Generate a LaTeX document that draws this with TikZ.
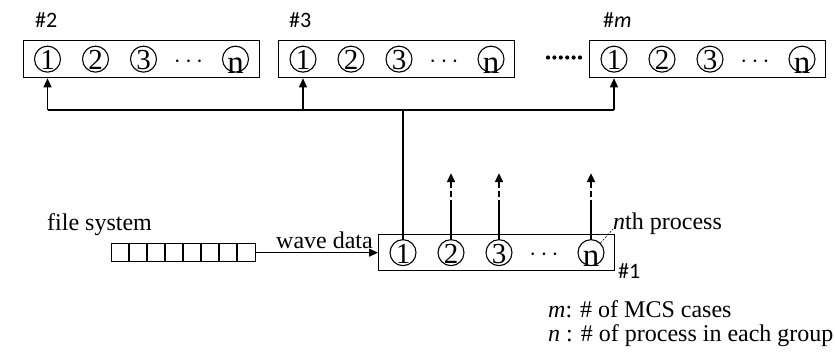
\documentclass[tikz,border=0pt]{standalone}
\usepackage{fontspec}
\setmainfont{Liberation Serif}
\newfontfamily\lblfont{Carlito}
\usetikzlibrary{arrows.meta,calc}
\newcommand{\pcd}[1]{\makebox[0pt]{\smash{\raisebox{-10.5pt}{\fontsize{29pt}{29pt}\selectfont #1}}}}
\newcommand{\pcn}{\makebox[0pt]{\smash{\raisebox{-14pt}{\fontsize{33pt}{33pt}\selectfont n}}}}
\tikzset{
 grp/.style={draw, line width=1.3pt, minimum width=236pt, minimum height=37pt, inner sep=0pt, anchor=north west},
 pc/.style={draw, circle, line width=1.1pt, minimum size=26pt, inner sep=0pt},
 hdr/.style={font=\lblfont\fontsize{22pt}{22pt}\selectfont, anchor=base west, inner sep=0pt},
 txt/.style={font=\fontsize{24pt}{24pt}\selectfont, anchor=base west, inner sep=0pt},
 bus/.style={line width=2pt},
 uparrow/.style={line width=1.2pt, -{Triangle[length=9pt,width=8pt]}},
 dasharrow/.style={line width=1.8pt, dash pattern=on 39pt off 3pt on 6pt off 3pt on 30pt, -{Triangle[length=9pt,width=8pt]}},
 queuebox/.style={draw, line width=1.3pt, minimum width=144pt, minimum height=18pt, inner sep=0pt, anchor=north west},
}
\begin{document}
\begin{tikzpicture}[x=1pt,y=-1pt]
\useasboundingbox (0,0) rectangle (835,354);
% group boxes
\node[grp] (b2) at (22.5,40) {};
\node[grp] (b3) at (278,40) {};
\node[grp] (bm) at (589,40) {};
\node[grp, minimum height=36pt] (b1) at (378,234) {};
\foreach \b in {b1,b2,b3,bm}{
 \node[pc] (\b-1) at ([xshift=25pt]\b.west) {\pcd{1}};
 \node[pc] (\b-2) at ([xshift=73pt]\b.west) {\pcd{2}};
 \node[pc] (\b-3) at ([xshift=121pt]\b.west) {\pcd{3}};
 \node[inner sep=0pt, anchor=base, font=\fontsize{26pt}{26pt}\selectfont] (\b-d) at ([xshift=166pt,yshift=-8pt]\b.west) {$\cdots$};
 \node[pc] (\b-n) at ([xshift=213pt]\b.west) {\pcn};
}
% headers
\node[hdr] (l2) at (35,27.5) {\#2};
\node[hdr] (l3) at (289,27.5) {\#3};
\node[hdr] (lm) at (603,27.5) {\#\textit{m}};
\node[hdr] (l1) at (618,278) {\#1};
% dots between groups
\foreach \i in {0,...,5} \fill (548+6.4*\i,57.5) circle (2.1pt);
% bus
\coordinate (h) at (b1-1 |- 0,110);
\draw[bus] (b2-1 |- h) -- (bm-1 |- h);
\draw[bus] (h) -- (b1-1.north);
\draw[uparrow] (b2-1 |- h) -- (b2-1 |- b2.south);
\draw[uparrow] (b3-1 |- h) -- (b3-1 |- b3.south);
\draw[uparrow] (bm-1 |- h) -- (bm-1 |- bm.south);
% dashed arrows
\foreach \k in {2,3,n}{
 \coordinate (t\k) at ([yshift=66pt]b1-\k.north);
 \draw[dasharrow] (b1-\k.north) -- (t\k);
}
% queue
\node[queuebox] (queue) at (111,243) {};
\foreach \i in {1,...,7} \draw[line width=1.3pt] ([xshift={\i*18pt}]queue.north west) -- ([xshift={\i*18pt}]queue.south west);
\draw[line width=1.3pt, -{Triangle[length=9pt,width=8pt]}] (queue.east) -- (b1.west);
% texts
\node[txt] (fs) at (47,230) {file system};
\node[txt] (wd) at (276,248) {wave data};
\node[txt] (nth) at (613,229) {\textit{n}th process};
\node[txt] (ml) at (548,317) {\textit{m}: \# of MCS cases};
\node[txt] (nl) at (548,341) {\textit{n} : \# of process in each group};
\draw[line width=0.6pt, dash pattern=on 2pt off 1.5pt] (b1-n.45) -- (nth.base west);
\end{tikzpicture}
\end{document}
